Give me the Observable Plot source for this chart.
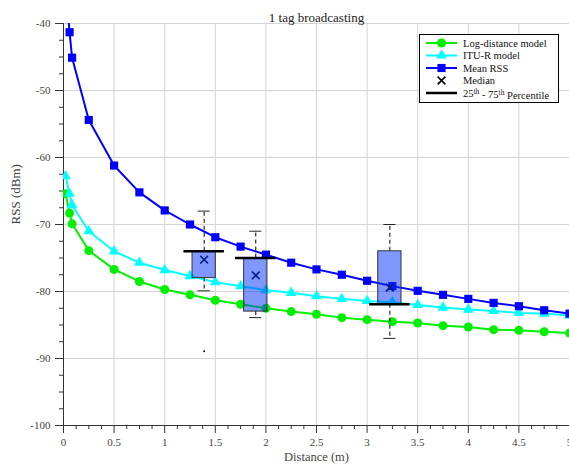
<!DOCTYPE html>
<html>
<head>
<meta charset="utf-8">
<script src="https://cdn.jsdelivr.net/npm/d3@7"></script>
<script src="https://cdn.jsdelivr.net/npm/@observablehq/plot@0.6"></script>
<style>
  html, body { margin: 0; padding: 0; background: #fff; overflow: hidden; }
  #chart svg, #chart svg text, #chart svg tspan {
    font-family: "Liberation Serif", serif !important;
  }
</style>
</head>
<body>
<div id="chart"></div>
<script>
// Distances (m) at which each model / measurement is evaluated
const distance = [0.02, 0.06, 0.085, 0.25, 0.5, 0.75, 1, 1.25, 1.5, 1.75, 2, 2.25, 2.5, 2.75, 3, 3.25, 3.5, 3.75, 4, 4.25, 4.5, 4.75, 5];

// RSS (dBm) series
const logDistance = [-65.4, -68.3, -69.9, -73.9, -76.7, -78.5, -79.7, -80.5, -81.3, -81.9, -82.5, -83.0, -83.4, -83.9, -84.2, -84.5, -84.7, -85.1, -85.3, -85.7, -85.8, -86.0, -86.2];
const ituR        = [-62.8, -65.4, -67.1, -71.0, -74.0, -75.7, -76.8, -77.7, -78.6, -79.2, -79.8, -80.2, -80.7, -81.1, -81.4, -81.6, -82.0, -82.4, -82.7, -82.9, -83.2, -83.3, -83.6];
const meanRss     = [-34.0, -41.3, -45.1, -54.4, -61.2, -65.2, -67.9, -70.0, -71.9, -73.3, -74.5, -75.7, -76.7, -77.5, -78.4, -79.2, -79.9, -80.5, -81.1, -81.7, -82.2, -82.8, -83.3];

// Measured distributions at three positions
const boxX      = [1.39, 1.90, 3.225];
const boxLow    = [-79.9, -83.9, -87.0];
const boxQ1     = [-78.0, -83.0, -81.9];
const boxMedian = [-75.25, -77.6, -79.4];
const boxQ3     = [-74.0, -75.0, -74.0];
const boxHigh   = [-68.0, -71.0, -70.0];
const pctLine   = [-74.0, -75.0, -81.9];
const outlierX  = [1.39];
const outlierY  = [-88.9];

// Axis ticks
const majorX = d3.range(0, 5.001, 0.5);
const minorX = d3.range(0, 5.001, 0.125).filter(v => Math.abs(v * 2 - Math.round(v * 2)) > 1e-9);
const majorY = d3.range(-100, -39, 10);
const minorY = d3.range(-100, -39, 2.5).filter(v => v % 10 !== 0);

const rows = distance.map((d, i) => ({d, logDist: logDistance[i], itu: ituR[i], mean: meanRss[i]}));
const boxes = boxX.map((x, i) => ({
  x, low: boxLow[i], q1: boxQ1[i], median: boxMedian[i], q3: boxQ3[i], high: boxHigh[i], pct: pctLine[i]
}));
const outliers = outlierX.map((x, i) => ({x, y: outlierY[i]}));

const font = "Liberation Serif, serif";
const GREEN = "#00f000", CYAN = "#00ffff", BLUE = "#0000ff";
const boxHalf = 0.115, capHalf = 0.06, pctHalf = 0.2;

const chart = Plot.plot({
  width: 569,
  height: 468,
  marginTop: 23,
  marginBottom: 43,
  marginLeft: 63,
  marginRight: 0,
  style: {background: "#fff", color: "#444", overflow: "visible"},
  x: {domain: [0, 5], label: null},
  y: {domain: [-100, -40], label: null},
  marks: [
    Plot.gridX({ticks: majorX, stroke: "#d4d4d4", strokeOpacity: 1}),
    Plot.gridY({ticks: majorY, stroke: "#d4d4d4", strokeOpacity: 1}),

    Plot.axisX({ticks: minorX, tickSize: 4, tickFormat: () => "", stroke: "#333", label: null}),
    Plot.axisX({ticks: majorX, tickSize: 8, tickPadding: 5, tickFormat: d => `${d}`, fontSize: 11, stroke: "#333", label: null}),
    Plot.axisY({ticks: minorY, tickSize: 4, tickFormat: () => "", stroke: "#333", label: null}),
    Plot.axisY({ticks: majorY, tickSize: 8, tickPadding: 5, tickFormat: d => `${d}`, fontSize: 11, stroke: "#333", label: null}),
    Plot.ruleX([0], {stroke: "#333"}),
    Plot.ruleY([-100], {stroke: "#333"}),

    // model curves and measured mean
    Plot.line(rows, {x: "d", y: "logDist", stroke: GREEN, strokeWidth: 2, clip: true}),
    Plot.dot(rows, {x: "d", y: "logDist", r: 4.5, fill: GREEN, clip: true}),
    Plot.line(rows, {x: "d", y: "itu", stroke: CYAN, strokeWidth: 2, clip: true}),
    Plot.dot(rows, {x: "d", y: "itu", r: 4, symbol: "triangle", fill: CYAN, clip: true}),
    Plot.line(rows, {x: "d", y: "mean", stroke: BLUE, strokeWidth: 2, clip: true}),
    Plot.dot(rows, {x: "d", y: "mean", r: 4.6, symbol: "square", fill: BLUE, clip: true}),

    // box plots
    Plot.dot(boxes, {x: "x", y: "median", symbol: "times", r: 3.6, stroke: "#000", strokeWidth: 1.6}),
    Plot.ruleX(boxes, {x: "x", y1: "q3", y2: "high", stroke: "#000", strokeDasharray: "4,3"}),
    Plot.ruleX(boxes, {x: "x", y1: "q1", y2: "low", stroke: "#000", strokeDasharray: "4,3"}),
    Plot.ruleY(boxes, {y: "high", x1: d => d.x - capHalf, x2: d => d.x + capHalf, stroke: "#222"}),
    Plot.ruleY(boxes, {y: "low", x1: d => d.x - capHalf, x2: d => d.x + capHalf, stroke: "#222"}),
    Plot.rect(boxes, {x1: d => d.x - boxHalf, x2: d => d.x + boxHalf, y1: "q1", y2: "q3",
      fill: "#0030ff", fillOpacity: 0.5, stroke: "#333", strokeWidth: 1}),
    Plot.ruleY(boxes, {y: "pct", x1: d => d.x - pctHalf, x2: d => d.x + pctHalf, stroke: "#000", strokeWidth: 2.5}),
    Plot.dot(outliers, {x: "x", y: "y", r: 1, fill: "#000"}),

    // title and axis labels
    Plot.text(["1 tag broadcasting"], {frameAnchor: "top", dy: -11, fontSize: 13, fill: "#222"}),
    Plot.text(["Distance (m)"], {frameAnchor: "bottom", dy: 35, fontSize: 12.5, fill: "#444"}),
    Plot.text(["RSS (dBm)"], {frameAnchor: "left", dx: -48, rotate: -90, fontSize: 13, fill: "#444"})
  ]
});

chart.setAttribute("font-family", font);
document.getElementById("chart").appendChild(chart);

// Legend
const svg = d3.select(chart);
const lg = svg.append("g")
  .attr("font-family", font).attr("font-size", 10.5).attr("fill", "#111").attr("text-anchor", "start");
lg.append("rect").attr("x", 419.5).attr("y", 34.5).attr("width", 139).attr("height", 68)
  .attr("fill", "#fff").attr("stroke", "#000").attr("stroke-width", 1);

const entries = [
  {label: "Log-distance model", color: GREEN, symbol: d3.symbolCircle, size: Math.PI * 4.5 * 4.5, line: true},
  {label: "ITU-R model", color: CYAN, symbol: d3.symbolTriangle, size: Math.PI * 16, line: true},
  {label: "Mean RSS", color: BLUE, symbol: d3.symbolSquare, size: Math.PI * 4.6 * 4.6, line: true},
  {label: "Median", color: "#000", symbol: d3.symbolTimes, size: Math.PI * 3.6 * 3.6, line: false},
  {label: "pct", color: "#000", symbol: null, line: true, thick: true}
];
const rowY = [43, 55.5, 68, 80.5, 93];
entries.forEach((e, i) => {
  const y = rowY[i];
  if (e.line) {
    lg.append("line").attr("x1", 426).attr("x2", 457).attr("y1", y).attr("y2", y)
      .attr("stroke", e.color).attr("stroke-width", e.thick ? 2.5 : 2);
  }
  if (e.symbol) {
    const p = lg.append("path").attr("d", d3.symbol(e.symbol, e.size)()).attr("transform", `translate(441.5,${y})`);
    if (e.symbol === d3.symbolTimes) p.attr("fill", "none").attr("stroke", e.color).attr("stroke-width", 1.6);
    else p.attr("fill", e.color);
  }
  const t = lg.append("text").attr("x", 463).attr("y", y).attr("dy", "0.35em");
  if (e.label === "pct") {
    t.append("tspan").text("25");
    t.append("tspan").attr("font-size", 7.5).attr("dy", "-0.35em").text("th");
    t.append("tspan").attr("dy", "0.35em").text(" - 75");
    t.append("tspan").attr("font-size", 7.5).attr("dy", "-0.35em").text("th");
    t.append("tspan").attr("dy", "0.35em").text(" Percentile");
  } else {
    t.text(e.label);
  }
});
</script>
</body>
</html>
